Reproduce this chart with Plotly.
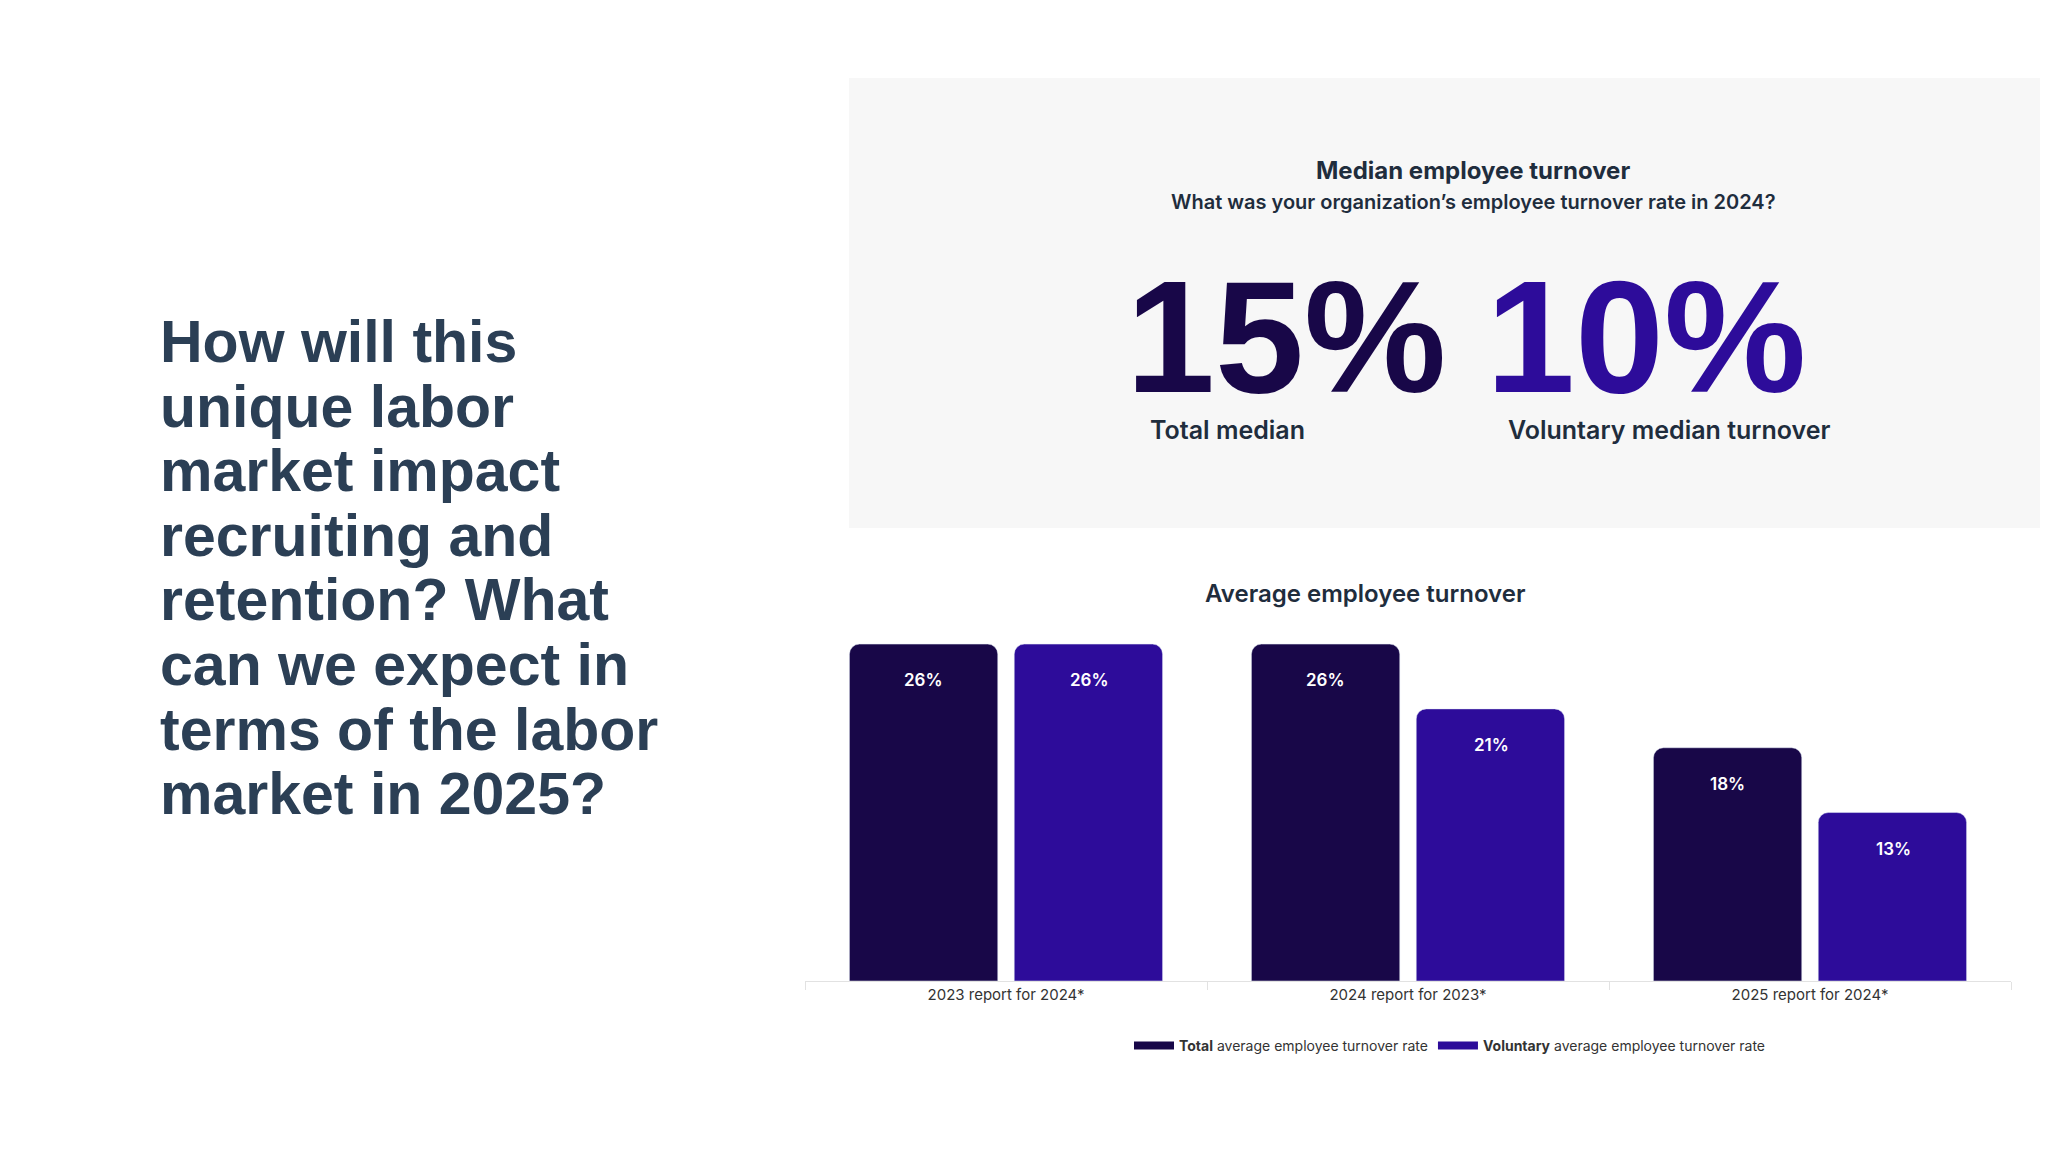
import plotly.graph_objects as go

W, H = 2048, 1152
OFF = 8  # page body margin

categories = ['2023 report for 2024*', '2024 report for 2023*', '2025 report for 2024*']
total_avg = [26, 26, 18]
voluntary_avg = [26, 21, 13]

heading_lines = ['How will this', 'unique labor', 'market impact', 'recruiting and',
                 'retention? What', 'can we expect in', 'terms of the labor', 'market in 2025?']
median_total = '15%'
median_voluntary = '10%'

DARK = '#180748'
PURPLE = '#2d0c9a'
SLATE = '#2b3f55'
TEXT = '#1f2d3d'


def px(x, y):
    # pixel -> paper coordinates
    return (x - OFF) / W, 1 - (y - OFF) / H


fig = go.Figure()

fig.add_trace(go.Bar(x=categories, y=total_avg, marker_color=DARK, showlegend=False,
                     hoverinfo='skip'))
fig.add_trace(go.Bar(x=categories, y=voluntary_avg, marker_color=PURPLE, showlegend=False,
                     hoverinfo='skip'))

# legend entries drawn as thick rounded lines
fig.add_trace(go.Scatter(x=[None], y=[None], mode='lines', line=dict(color=DARK, width=8),
                         name='<b>Total</b> average employee turnover rate'))
fig.add_trace(go.Scatter(x=[None], y=[None], mode='lines', line=dict(color=PURPLE, width=8),
                         name='<b>Voluntary</b> average employee turnover rate'))

# value labels near the top of each bar
for i, trace_vals in enumerate([total_avg, voluntary_avg]):
    for cat, v in zip(categories, trace_vals):
        fig.add_annotation(x=cat, y=v, xref='x', yref='y', text=f'{v}%', showarrow=False,
                           xshift=(-83 if i == 0 else 83), yshift=-36,
                           font=dict(family='Inter', size=17, color='white', weight=600))

ann = []
# left heading
for k, line in enumerate(heading_lines):
    x, y = px(158, 342 + k * 64.6)
    ann.append(dict(x=x, y=y, xanchor='left', text=f'<b>{line}</b>',
                    font=dict(family='Liberation Sans', size=59, color=SLATE)))

# top panel texts
x, y = px(1473, 170)
ann.append(dict(x=x, y=y, text='<b>Median employee turnover</b>',
                font=dict(family='Inter', size=24, color=TEXT)))
x, y = px(1473, 202)
ann.append(dict(x=x, y=y, text='What was your organization’s employee turnover rate in 2024?',
                font=dict(family='Inter', size=20, color=TEXT, weight=600)))
x, y = px(1286, 336)
ann.append(dict(x=x, y=y, text=f'<b>{median_total}</b>',
                font=dict(family='Liberation Sans', size=160, color=DARK)))
x, y = px(1646, 336)
ann.append(dict(x=x, y=y, text=f'<b>{median_voluntary}</b>',
                font=dict(family='Liberation Sans', size=160, color=PURPLE)))
x, y = px(1148, 430)
ann.append(dict(x=x, y=y, xanchor='left', text='Total median',
                font=dict(family='Inter', size=25, color=TEXT, weight=600)))
x, y = px(1669, 430)
ann.append(dict(x=x, y=y, text='Voluntary median turnover',
                font=dict(family='Inter', size=25, color=TEXT, weight=600)))
x, y = px(1365, 593)
ann.append(dict(x=x, y=y, text='Average employee turnover',
                font=dict(family='Inter', size=24, color=TEXT, weight=600)))

for a in ann:
    a.setdefault('xref', 'paper')
    a.setdefault('yref', 'paper')
    a.setdefault('showarrow', False)
    a.setdefault('xanchor', 'center')
    a.setdefault('yanchor', 'middle')
    fig.add_annotation(**a)

x0, y0 = px(849, 78)
x1, y1 = px(2060, 528)
fig.add_shape(type='rect', xref='paper', yref='paper', x0=x0, x1=x1, y0=y1, y1=y0,
              fillcolor='#f7f7f7', line_width=0, layer='below')

dx0, _ = px(805, 0)
dx1, _ = px(2011, 0)
_, dy0 = px(0, 981)
_, dy1 = px(0, 620)
_, ly = px(0, 1046)
lx, _ = px(1450, 0)

fig.update_layout(
    width=W, height=H, margin=dict(l=0, r=0, t=0, b=0),
    paper_bgcolor='white', plot_bgcolor='white',
    barmode='group', bargap=0.18, bargroupgap=0.1, barcornerradius=10,
    xaxis=dict(domain=[dx0, dx1], showgrid=False, showline=True, linecolor='#e2e2e2',
               ticks='outside', tickson='boundaries', ticklen=8, tickcolor='#e2e2e2',
               tickfont=dict(family='Inter', size=15, color='#333333')),
    yaxis=dict(domain=[dy0, dy1], range=[0, 27.86], visible=False),
    legend=dict(orientation='h', x=lx, xanchor='center', y=ly, yanchor='middle',
                font=dict(family='Inter', size=14, color='#333333'), itemwidth=40),
    font=dict(family='Inter'),
)

fig.write_html('out.html')
